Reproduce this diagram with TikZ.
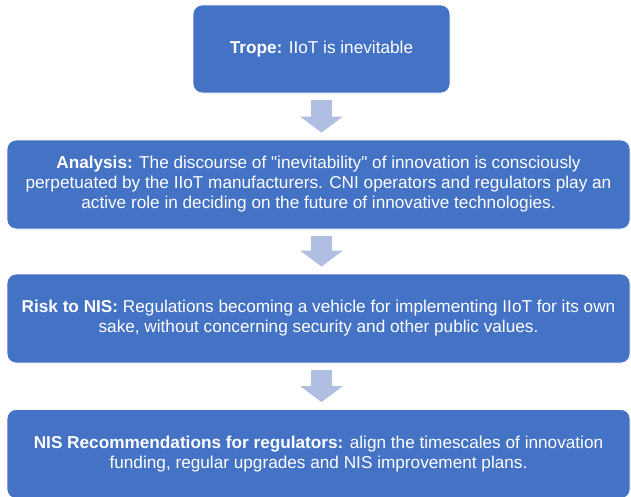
\documentclass[tikz,border=0pt]{standalone}
\usepackage{fontspec}
\setmainfont{Liberation Sans}
\usetikzlibrary{arrows.meta}
\definecolor{boxblue}{RGB}{68,114,196}
\definecolor{arrowblue}{RGB}{176,190,225}

\begin{document}
\begin{tikzpicture}[x=1pt,y=-1pt,
  stage/.style={rectangle,rounded corners=9pt,fill=boxblue,draw=white,line width=.8pt,
    text=white,align=center,inner sep=0pt,font=\fontsize{17.2}{20}\selectfont},
  widestage/.style={stage,minimum width=623pt,minimum height=89pt},
  flow/.style={arrowblue,line width=21pt,-{Triangle[width=42pt,length=16pt]},
    shorten <=6.5pt,shorten >=7pt}]
\useasboundingbox (0,0) rectangle (631,496);

\node[stage,minimum width=257pt,minimum height=88pt] (trope) at (321.5,49)
  {\textbf{Trope:} IIoT is inevitable};

\node[widestage] (analysis) at (318.5,184.5)
  {\textbf{Analysis:} The discourse of \textquotedbl inevitability\textquotedbl{} of innovation is consciously\\
   perpetuated by the IIoT manufacturers. CNI operators and regulators play an\\
   active role in deciding on the future of innovative technologies.};

\node[widestage] (risk) at (318.5,318.5)
  {\textbf{Risk to NIS:} Regulations becoming a vehicle for implementing IIoT for its own\\
   sake, without concerning security and other public values.};

\node[widestage] (recom) at (318.5,454)
  {\textbf{NIS Recommendations for regulators:} align the timescales of innovation\\
   funding, regular upgrades and NIS improvement plans.};


\draw[flow] (trope.south) -- (trope.south |- analysis.north);
\draw[flow] (trope.south |- analysis.south) -- (trope.south |- risk.north);
\draw[flow] (trope.south |- risk.south) -- (trope.south |- recom.north);

\end{tikzpicture}
\end{document}
